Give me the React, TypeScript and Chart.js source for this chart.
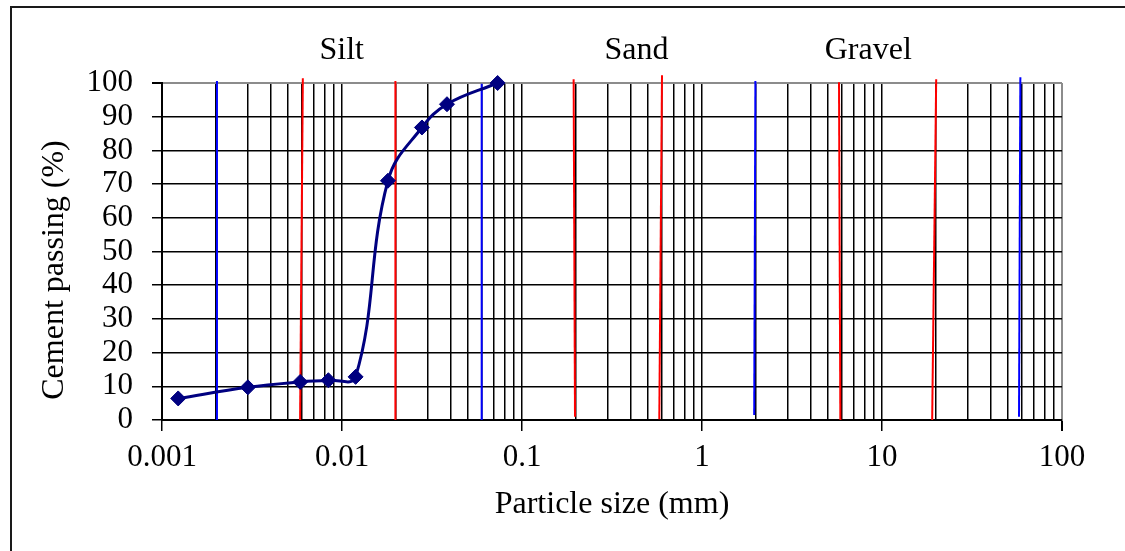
import React, { useEffect, useRef } from 'react';
import { Chart, registerables } from 'chart.js';

Chart.register(...registerables);

// Grading curve (particle size in mm, % passing)
const particleSize = [0.00123, 0.003, 0.00586, 0.0084, 0.0119, 0.018, 0.0278, 0.0383, 0.0732];
const cementPassing = [6.4, 9.7, 11.3, 11.8, 12.8, 71.0, 86.8, 93.7, 100];

// Soil class boundary lines
const boundaryXBottom = [0.00202, 0.00585, 0.0198, 0.0597, 0.197, 0.579, 1.95, 5.87, 19.0, 57.7];
const boundaryXTop = [0.00202, 0.00606, 0.0198, 0.0597, 0.1936, 0.5995, 1.98, 5.77, 20.0, 58.7];
const boundaryYBottom = [0, 0, 0, 0, 1.0, 0.2, 1.5, 0, 0, 1.0];
const boundaryYTop = [100.6, 101.4, 100.6, 99.8, 101.1, 102.3, 100.6, 100.2, 101.1, 101.7];
const boundaryColors = ['#0000ff', '#ff0000', '#ff0000', '#0000ff', '#ff0000', '#ff0000', '#0000ff', '#ff0000', '#ff0000', '#0000ff'];

// Zone labels
const zoneNames = ['Silt', 'Sand', 'Gravel'];
const zoneLabelX = [0.00996, 0.432, 8.39];

// Axis ticks
const xDecades = [0.001, 0.01, 0.1, 1, 10, 100];
const xTickLabels = ['0.001', '0.01', '0.1', '1', '10', '100'];
const xMantissas = [1, 2, 3, 4, 5, 6, 7, 8, 9];
const yTickLabels = ['0', '10', '20', '30', '40', '50', '60', '70', '80', '90', '100'];

const xTitle = 'Particle size (mm)';
const yTitle = 'Cement passing (%)';

const FONT = '"Liberation Serif", "Times New Roman", serif';

const isMajor = (v: number) => {
  const e = Math.log10(v);
  return Math.abs(e - Math.round(e)) < 1e-6;
};

const decorPlugin = {
  id: 'decor',
  beforeDraw(chart: any) {
    const ctx = chart.ctx;
    ctx.save();
    ctx.fillStyle = '#ffffff';
    ctx.fillRect(0, 0, chart.width, chart.height);
    ctx.strokeStyle = '#1a1a1a';
    ctx.lineWidth = 2;
    ctx.beginPath();
    ctx.moveTo(11, chart.height);
    ctx.lineTo(11, 7);
    ctx.lineTo(chart.width, 7);
    ctx.stroke();
    ctx.restore();
  },
  afterDraw(chart: any) {
    const ctx = chart.ctx;
    const xs = chart.scales.x;
    const area = chart.chartArea;
    ctx.save();
    ctx.fillStyle = '#000000';
    ctx.font = `32px ${FONT}`;
    ctx.textAlign = 'center';
    ctx.textBaseline = 'alphabetic';
    zoneNames.forEach((name, i) => {
      ctx.fillText(name, xs.getPixelForValue(zoneLabelX[i]), area.top - 24);
    });
    ctx.translate(63, (area.top + area.bottom) / 2 + 18.5);
    ctx.rotate(-Math.PI / 2);
    ctx.fillText(yTitle, 0, 0);
    ctx.restore();
  },
};

export default function App() {
  const canvasRef = useRef<HTMLCanvasElement | null>(null);

  useEffect(() => {
    document.body.style.margin = '0';
    const canvas = canvasRef.current;
    if (!canvas) return;

    const boundaryDatasets = boundaryColors.map((color, i) => ({
      type: 'line' as const,
      data: [
        { x: boundaryXBottom[i], y: boundaryYBottom[i] },
        { x: boundaryXTop[i], y: boundaryYTop[i] },
      ],
      borderColor: color,
      borderWidth: 2,
      pointRadius: 0,
      tension: 0,
      clip: false as any,
      order: 1,
    }));

    const chart = new Chart(canvas, {
      type: 'line',
      data: {
        datasets: [
          {
            data: particleSize.map((x, i) => ({ x, y: cementPassing[i] })),
            borderColor: '#000080',
            backgroundColor: '#000080',
            borderWidth: 3,
            pointStyle: 'rectRot',
            pointRadius: 7.5,
            pointBorderColor: '#000080',
            pointBorderWidth: 1,
            tension: 0.4,
            order: 0,
            clip: false as any,
          },
          ...boundaryDatasets,
        ] as any,
      },
      options: {
        responsive: false,
        animation: false,
        layout: { padding: { left: 0, right: 63, top: 83, bottom: 0 } },
        plugins: {
          legend: { display: false },
          tooltip: { enabled: false },
        },
        scales: {
          x: {
            type: 'logarithmic',
            position: 'bottom',
            min: 0.001,
            max: 100,
            afterBuildTicks: (scale: any) => {
              const ticks: any[] = [];
              xDecades.forEach((d, di) => {
                if (di === xDecades.length - 1) {
                  ticks.push({ value: d });
                } else {
                  xMantissas.forEach((m) => ticks.push({ value: +(m * d).toPrecision(6) }));
                }
              });
              scale.ticks = ticks;
            },
            afterFit: (scale: any) => {
              scale.height = 131;
            },
            grid: {
              color: (c: any) => (c.tick && c.tick.value === 100 ? '#8c8c8c' : '#000000'),
              lineWidth: (c: any) => (c.tick && c.tick.value === 100 ? 2 : 1.5),
              tickColor: (c: any) => (c.tick && isMajor(c.tick.value) ? '#000000' : 'rgba(0,0,0,0)'),
              tickLength: 11,
            },
            border: { color: '#000000', width: 2 },
            ticks: {
              autoSkip: false,
              maxRotation: 0,
              padding: 8,
              color: '#000000',
              font: { family: FONT, size: 31 },
              callback: (value: any) => {
                const v = Number(value);
                if (!isMajor(v)) return '';
                const idx = xDecades.findIndex((d) => Math.abs(Math.log10(d) - Math.log10(v)) < 1e-6);
                return idx >= 0 ? xTickLabels[idx] : '';
              },
            },
            title: {
              display: true,
              text: xTitle,
              color: '#000000',
              font: { family: FONT, size: 32 },
              padding: { top: 0, bottom: 27.6 },
            },
          },
          y: {
            type: 'linear',
            min: 0,
            max: 100,
            afterFit: (scale: any) => {
              scale.width = 162;
            },
            grid: {
              color: (c: any) => (c.tick && c.tick.value === 100 ? '#8c8c8c' : '#000000'),
              lineWidth: (c: any) => (c.tick && c.tick.value === 100 ? 2 : 1.5),
              tickColor: '#000000',
              tickLength: 10,
            },
            border: { color: '#000000', width: 2 },
            ticks: {
              stepSize: 10,
              autoSkip: false,
              padding: 19,
              color: '#000000',
              font: { family: FONT, size: 31 },
              callback: (value: any) => yTickLabels[Math.round(Number(value) / 10)] ?? '',
            },
          },
        },
      },
      plugins: [decorPlugin],
    } as any);

    return () => chart.destroy();
  }, []);

  return (
    <div style={{ width: 1125, height: 551, position: 'relative', background: '#fff' }}>
      <canvas ref={canvasRef} width={1125} height={551} style={{ display: 'block' }} />
    </div>
  );
}
